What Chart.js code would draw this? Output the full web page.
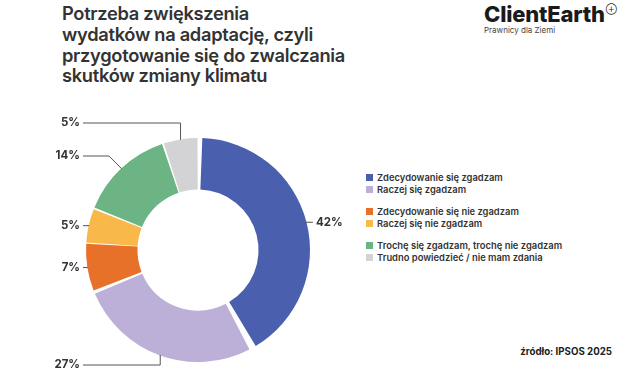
<!DOCTYPE html>
<html>
<head>
<meta charset="utf-8">
<script src="https://cdn.jsdelivr.net/npm/chart.js@4.4.1/dist/chart.umd.min.js"></script>
<style>
  html, body { margin: 0; padding: 0; background: #fff; }
  body { width: 627px; height: 376px; position: relative; overflow: hidden; font-family: Inter, "Noto Sans", sans-serif; color: #333; }
  #chart { position: absolute; left: 0; top: 0; }
  .title { position: absolute; left: 62px; top: 3px; font-size: 18.3px; font-weight: 600; line-height: 20.8px; letter-spacing: -0.3px; color: #333; }
  .logo { position: absolute; left: 484px; top: -3px; }
  .logo .name { font-size: 22px; font-weight: 800; letter-spacing: -0.2px; color: #1a1a1a; line-height: 24px; }
  .logo .name sup { font-size: 8px; font-weight: 400; vertical-align: 10px; margin-left: 1px; }
  .logo .sub { font-size: 8px; color: #444; line-height: 9px; }
  .legend { position: absolute; left: 366px; top: 171px; font-size: 9.4px; font-weight: 600; color: #333; }
  .legend .row { height: 12.5px; display: flex; align-items: center; white-space: nowrap; }
  .legend .gap { height: 9px; }
  .legend .box { width: 7px; height: 7px; margin-right: 4px; }
  .source { position: absolute; right: 15px; top: 346px; font-size: 9.7px; font-weight: 700; color: #222; }
</style>
</head>
<body>
<div class="title">Potrzeba zwiększenia<br>wydatków na adaptację, czyli<br>przygotowanie się do zwalczania<br>skutków zmiany klimatu</div>
<div class="logo"><div class="name">ClientEarth<sup>⊕</sup></div><div class="sub">Prawnicy dla Ziemi</div></div>
<div class="legend" id="legend"></div>
<div class="source">źródło: IPSOS 2025</div>
<canvas id="chart" width="627" height="376"></canvas>
<script>
const categories = [
  "Zdecydowanie się zgadzam",
  "Raczej się zgadzam",
  "Zdecydowanie się nie zgadzam",
  "Raczej się nie zgadzam",
  "Trochę się zgadzam, trochę nie zgadzam",
  "Trudno powiedzieć / nie mam zdania"
];
const values = [42, 27, 7, 5, 14, 5];
const colors = ["#4a5fae", "#bdb0d8", "#e8712a", "#f9b94a", "#6cb484", "#d3d3d6"];

// legend built from the arrays, in groups of two
const legendEl = document.getElementById("legend");
categories.forEach((name, i) => {
  if (i > 0 && i % 2 === 0) {
    const g = document.createElement("div");
    g.className = "gap";
    legendEl.appendChild(g);
  }
  const row = document.createElement("div");
  row.className = "row";
  row.innerHTML = '<span class="box" style="background:' + colors[i] + '"></span>' + name;
  legendEl.appendChild(row);
});

// leader lines and percent labels
const leaders = [
  { type: "right" },
  { type: "elbow", y: 365 },
  { type: "flat" },
  { type: "flat" },
  { type: "diag", y: 156 },
  { type: "elbow", y: 123 }
];
const labelX = 80;

const leaderLabels = {
  id: "leaderLabels",
  afterDatasetsDraw(chart) {
    const ctx = chart.ctx;
    const meta = chart.getDatasetMeta(0);
    ctx.save();
    ctx.strokeStyle = "#555";
    ctx.lineWidth = 1;
    ctx.fillStyle = "#333";
    ctx.font = "700 11.5px Inter, sans-serif";
    ctx.textBaseline = "middle";
    meta.data.forEach((arc, i) => {
      const p = arc.getProps(["x", "y", "startAngle", "endAngle", "outerRadius"], true);
      const mid = (p.startAngle + p.endAngle) / 2;
      const r = p.outerRadius + 2;
      const ax = p.x + Math.cos(mid) * r;
      const ay = p.y + Math.sin(mid) * r;
      const txt = values[i] + "%";
      const l = leaders[i];
      ctx.beginPath();
      if (l.type === "right") {
        ctx.moveTo(ax, ay);
        ctx.lineTo(ax + 7, ay);
        ctx.stroke();
        ctx.textAlign = "left";
        ctx.fillText(txt, ax + 10, ay);
      } else if (l.type === "elbow") {
        ctx.moveTo(ax, ay);
        ctx.lineTo(ax, l.y);
        ctx.lineTo(labelX + 3, l.y);
        ctx.stroke();
        ctx.textAlign = "right";
        ctx.fillText(txt, labelX, l.y);
      } else if (l.type === "diag") {
        ctx.moveTo(ax, ay);
        ctx.lineTo(ax - (ay - l.y), l.y);
        ctx.lineTo(labelX + 3, l.y);
        ctx.stroke();
        ctx.textAlign = "right";
        ctx.fillText(txt, labelX, l.y);
      } else {
        ctx.moveTo(ax, ay);
        ctx.lineTo(labelX + 3, ay);
        ctx.stroke();
        ctx.textAlign = "right";
        ctx.fillText(txt, labelX, ay);
      }
    });
    ctx.restore();
  }
};

new Chart(document.getElementById("chart"), {
  type: "doughnut",
  plugins: [leaderLabels],
  data: {
    labels: categories,
    datasets: [{
      data: values,
      backgroundColor: colors,
      borderWidth: 0,
      spacing: 5
    }]
  },
  options: {
    responsive: false,
    animation: false,
    cutout: "53%",
    layout: { padding: { left: 86, top: 138, right: 317, bottom: 14 } },
    plugins: {
      legend: { display: false },
      tooltip: { enabled: false }
    }
  }
});
</script>
</body>
</html>
